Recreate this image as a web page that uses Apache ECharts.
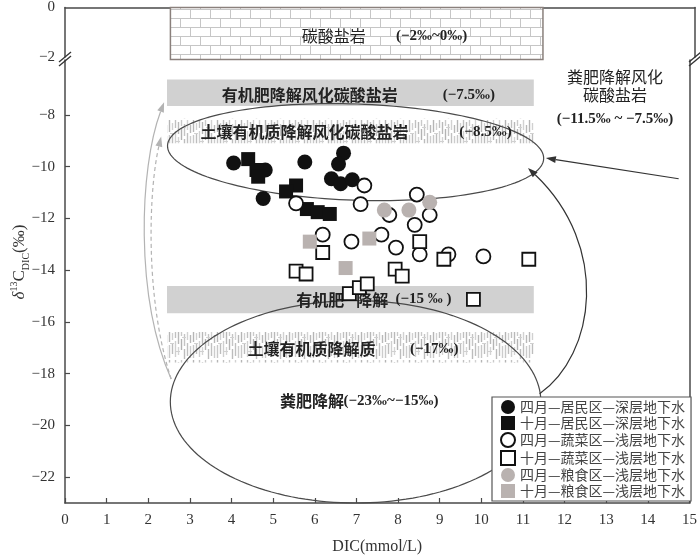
<!DOCTYPE html>
<html><head><meta charset="utf-8">
<script src="https://cdn.jsdelivr.net/npm/echarts@6/dist/echarts.min.js"></script>
<style>html,body{margin:0;padding:0;background:#fff}#c{width:700px;height:560px}</style>
</head><body><div id="c"></div>
<script>
// ---------- data ----------
const seriesNames = ['四月—居民区—深层地下水','十月—居民区—深层地下水','四月—蔬菜区—浅层地下水','十月—蔬菜区—浅层地下水','四月—粮食区—浅层地下水','十月—粮食区—浅层地下水'];
const aprResDeep = [[4.05,-9.86],[4.81,-10.13],[5.76,-9.82],[6.69,-9.48],[6.57,-9.90],[6.40,-10.47],[6.62,-10.66],[6.90,-10.51],[4.76,-11.23]];
const octResDeep = [[4.40,-9.71],[4.60,-10.13],[4.64,-10.39],[5.55,-10.73],[5.31,-10.96],[5.81,-11.64],[6.07,-11.76],[6.36,-11.83]];
const aprVegShallow = [[7.19,-10.73],[5.55,-11.42],[7.10,-11.45],[8.45,-11.08],[6.19,-12.63],[6.88,-12.90],[7.60,-12.63],[7.79,-11.87],[7.95,-13.13],[8.40,-12.25],[8.76,-11.87],[8.52,-13.39],[9.21,-13.39],[10.05,-13.47]];
const octVegShallow = [[6.83,-14.91],[7.07,-14.68],[7.26,-14.53],[5.55,-14.04],[5.79,-14.15],[6.19,-13.32],[8.52,-12.90],[9.10,-13.58],[11.14,-13.58],[7.93,-13.96],[8.10,-14.23],[9.81,-15.13]];
const aprGrainShallow = [[7.67,-11.68],[8.26,-11.68],[8.76,-11.38]];
const octGrainShallow = [[5.88,-12.90],[7.31,-12.78],[6.74,-13.92]];

const xTickValues = [0,1,2,3,4,5,6,7,8,9,10,11,12,13,14,15];
const yTickTop = [0,-2];
const yTickLower = [-8,-10,-12,-14,-16,-18,-20,-22];

// source ranges [x0, x1, yTop, yBottom]
const carbonateRange = [2.51, 11.38, 0, -2.1];
const bandOrgFertWeather = [2.45, 11.26, -6.63, -7.66];
const bandSoilWeather = [2.45, 11.26, -8.15, -9.10];
const bandOrgFert = [2.45, 11.26, -14.61, -15.67];
const bandSoil = [2.45, 11.26, -16.39, -17.57];

// ellipses [cx, cy, rx, ry, rotationDeg]
const ellipseUpper = [6.98, -9.44, 4.52, 1.86, 2];
const ellipseLower = [6.98, -19.09, 4.45, 3.91, 0];

// arrows [sx, sy, c1x, c1y, c2x, c2y, ex, ey]
const arrowStraight = [14.74, -10.47, 14.74, -10.47, 14.74, -10.47, 11.55, -9.67];
const arrowCurve = [11.40, -18.78, 12.74, -17.26, 13.10, -13.09, 11.12, -10.05];
const arrowGray1 = [2.55, -18.21, 1.67, -14.99, 1.79, -10.05, 2.38, -7.51];
const arrowGray2 = [2.55, -18.21, 1.90, -14.99, 2.02, -10.81, 2.31, -8.84];

// text annotations [text, x, y]
const topZhLabels = [['碳酸盐岩', 6.40, -1.15]];
const topValLabels = [['(−2‰~0‰)', 8.73, -1.15]];
const zhLabels = [
  ['有机肥降解风化碳酸盐岩', 5.88, -7.24],
  ['土壤有机质降解风化碳酸盐岩', 5.75, -8.65],
  ['有机肥', 6.13, -15.14],
  ['降解', 7.38, -15.14],
  ['土壤有机质降解质', 5.92, -17.04],
  ['粪肥降解', 5.93, -19.05]
];
const sideZhLabels = [['粪肥降解风化', 13.21, -6.53], ['碳酸盐岩', 13.21, -7.22]];
const valLabels = [
  ['(−7.5‰)', 9.70, -7.24],
  ['(−8.5‰)', 10.10, -8.65],
  ['(−15 ‰ )', 8.61, -15.14],
  ['(−17‰)', 8.87, -17.04],
  ['(−23‰~−15‰)', 7.83, -19.05],
  ['(−11.5‰ ~ −7.5‰)', 13.21, -8.15]
];

// ---------- patterns ----------
const brick = document.createElement('canvas'); brick.width = 40; brick.height = 18;
(function(){ const g = brick.getContext('2d'); g.fillStyle='#fff'; g.fillRect(0,0,40,18);
  g.strokeStyle='#c6c6c6'; g.lineWidth=1; g.beginPath();
  g.moveTo(0,0.5); g.lineTo(40,0.5); g.moveTo(0,9.5); g.lineTo(40,9.5);
  g.moveTo(0.5,0); g.lineTo(0.5,9); g.moveTo(20.5,0); g.lineTo(20.5,9);
  g.moveTo(10.5,9); g.lineTo(10.5,18); g.moveTo(30.5,9); g.lineTo(30.5,18);
  g.stroke(); })();
const hatch = document.createElement('canvas'); hatch.width = 24; hatch.height = 30;
(function(){ const h = hatch.getContext('2d'); h.fillStyle='#fff'; h.fillRect(0,0,24,30);
  const cols=[[1,0,12,'#b5b5b5'],[1,15,28,'#c8c8c8'],[4,3,10,'#d0d0d0'],[4,14,24,'#bdbdbd'],[7,0,8,'#c0c0c0'],[7,11,27,'#cfcfcf'],[10,2,14,'#b8b8b8'],[10,17,25,'#d5d5d5'],[13,0,6,'#cacaca'],[13,9,20,'#b3b3b3'],[16,4,16,'#c4c4c4'],[16,19,29,'#bcbcbc'],[19,0,10,'#d2d2d2'],[19,13,26,'#c0c0c0'],[22,5,13,'#b8b8b8'],[22,16,28,'#cccccc']];
  h.lineWidth=1.4; cols.forEach(c=>{h.strokeStyle=c[3]; h.beginPath(); h.moveTo(c[0]+0.5,c[1]); h.lineTo(c[0]+0.5,c[2]); h.stroke();});
  h.strokeStyle='#d0d0d0'; h.lineWidth=1; h.beginPath(); h.moveTo(2,13.5); h.lineTo(6,13.5); h.moveTo(14,7.5); h.lineTo(18,7.5); h.moveTo(8,21.5); h.lineTo(12,21.5); h.stroke(); })();

// ---------- helpers ----------
const AX = '#4a4a4a';
const serif = 'Liberation Serif';
const cjk = 'Noto Sans CJK SC';
const minus = v => String(v).replace('-', '−');

function rectSeries(range, xi, yi, style, z){
  return {type:'custom', xAxisIndex:xi, yAxisIndex:yi, z:z, silent:true, clip:false, data:[range],
    renderItem:(params, api)=>{
      const a = api.coord([api.value(0), api.value(2)]);
      const b = api.coord([api.value(1), api.value(3)]);
      return {type:'rect', shape:{x:Math.min(a[0],b[0]), y:Math.min(a[1],b[1]), width:Math.abs(b[0]-a[0]), height:Math.abs(b[1]-a[1])}, style:style};
    }};
}
function ellipseSeries(e){
  return {type:'custom', xAxisIndex:1, yAxisIndex:2, z:3, silent:true, data:[e],
    renderItem:(params, api)=>{
      const c = api.coord([api.value(0), api.value(1)]);
      const s = api.size([api.value(2), api.value(3)]);
      const th = api.value(4)*Math.PI/180;
      const pts=[];
      for(let i=0;i<=160;i++){const t=i/160*2*Math.PI; const ex=s[0]*Math.cos(t), ey=s[1]*Math.sin(t);
        pts.push([c[0]+ex*Math.cos(th)-ey*Math.sin(th), c[1]+ex*Math.sin(th)+ey*Math.cos(th)]);}
      return {type:'polygon', shape:{points:pts}, style:{fill:'none', stroke:'#4a4a4a', lineWidth:1.2}};
    }};
}
function arrowSeries(a, color, dash){
  return {type:'custom', xAxisIndex:1, yAxisIndex:2, z:3, silent:true, data:[a],
    renderItem:(params, api)=>{
      const P=[0,2,4,6].map(i=>api.coord([api.value(i), api.value(i+1)]));
      const e=P[3];
      let ref=P[2];
      for(let k=2;k>=0;k--){ if(Math.hypot(e[0]-P[k][0], e[1]-P[k][1])>1){ ref=P[k]; break; } }
      let dx=e[0]-ref[0], dy=e[1]-ref[1]; const L=Math.hypot(dx,dy)||1; dx/=L; dy/=L;
      const hl=10, hw=3.5;
      const bx=e[0]-dx*hl, by=e[1]-dy*hl;
      return {type:'group', children:[
        {type:'bezierCurve', shape:{x1:P[0][0],y1:P[0][1],cpx1:P[1][0],cpy1:P[1][1],cpx2:P[2][0],cpy2:P[2][1],x2:bx,y2:by},
          style:{fill:'none', stroke:color, lineWidth:1.2, lineDash:dash||null}},
        {type:'polygon', shape:{points:[[e[0],e[1]],[bx-dy*hw,by+dx*hw],[bx+dy*hw,by-dx*hw]]}, style:{fill:color}}
      ]};
    }};
}
function textSeries(arr, xi, yi, font){
  return {type:'custom', xAxisIndex:xi, yAxisIndex:yi, z:4, silent:true, clip:false, data:arr.map(a=>[a[1],a[2]]),
    renderItem:(params, api)=>{
      const p=api.coord([api.value(0), api.value(1)]);
      return {type:'text', x:p[0], y:p[1], style:Object.assign({text:arr[params.dataIndex][0], align:'center', verticalAlign:'middle', fill:'#222'}, font)};
    }};
}
const zhFont = {fontFamily:cjk, fontSize:16, fontWeight:'bold'};
const valFont = {fontFamily:serif, fontSize:15, fontWeight:'bold'};
const sideFont = {fontFamily:cjk, fontSize:16, fontWeight:'normal'};

const axisLineStyle = {lineStyle:{color:AX, width:1.5}};
const chart = echarts.init(document.getElementById('c'), null, {renderer:'canvas'});
const option = {
  animation:false,
  backgroundColor:'#fff',
  grid:[{left:65, right:5, top:5, height:52}, {left:65, right:5, top:60, bottom:49}],
  xAxis:[
    {gridIndex:0, type:'value', min:0, max:15, position:'top', axisLine:Object.assign({onZero:false}, axisLineStyle), axisTick:{show:false}, axisLabel:{show:false}, splitLine:{show:false}},
    {gridIndex:1, type:'value', min:0, max:15, interval:1, position:'bottom', axisLine:Object.assign({onZero:false}, axisLineStyle),
      axisTick:{inside:true, length:5, lineStyle:{color:AX, width:1.2}}, splitLine:{show:false},
      axisLabel:{fontFamily:serif, fontSize:15, color:'#333', margin:10},
      name:'DIC(mmol/L)', nameLocation:'middle', nameGap:36, nameTextStyle:{fontFamily:serif, fontSize:16, color:'#333'}}
  ],
  yAxis:[
    {gridIndex:0, type:'value', min:-2, max:0, interval:2, axisLine:Object.assign({onZero:false}, axisLineStyle), axisTick:{show:false}, splitLine:{show:false},
      axisLabel:{fontFamily:serif, fontSize:15, color:'#333', margin:10, formatter:minus}},
    {gridIndex:0, type:'value', position:'right', min:-2, max:0, axisLine:Object.assign({onZero:false}, axisLineStyle), axisTick:{show:false}, axisLabel:{show:false}, splitLine:{show:false}},
    {gridIndex:1, type:'value', min:-23, max:-5.88, axisLine:Object.assign({onZero:false}, axisLineStyle), splitLine:{show:false},
      axisTick:{inside:true, length:5, customValues:yTickLower, lineStyle:{color:AX, width:1.2}},
      axisLabel:{fontFamily:serif, fontSize:15, color:'#333', margin:10, customValues:yTickLower, formatter:minus}},
    {gridIndex:1, type:'value', position:'right', min:-23, max:-5.88, axisLine:Object.assign({onZero:false}, axisLineStyle), axisTick:{show:false}, axisLabel:{show:false}, splitLine:{show:false}}
  ],
  legend:{orient:'vertical', left:492, top:397, itemWidth:14, itemHeight:14, itemGap:2, padding:[3,6,3,8],
    backgroundColor:'#fff', borderColor:'#555', borderWidth:1.2, z:10,
    textStyle:{fontFamily:cjk, fontSize:14, color:'#444'}, data:seriesNames},
  graphic:[
    {type:'line', z:20, shape:{x1:59,y1:62,x2:71,y2:52}, style:{stroke:'#333', lineWidth:1.3}},
    {type:'line', z:20, shape:{x1:59,y1:66,x2:71,y2:56}, style:{stroke:'#333', lineWidth:1.3}},
    {type:'line', z:20, shape:{x1:689,y1:62,x2:701,y2:52}, style:{stroke:'#333', lineWidth:1.3}},
    {type:'line', z:20, shape:{x1:689,y1:66,x2:701,y2:56}, style:{stroke:'#333', lineWidth:1.3}},
    {type:'text', x:20, y:262, rotation:Math.PI/2, z:20,
      style:{text:'{d|δ}{sup|13}{c|C}{sub|DIC}{c|(‰)}', align:'center', verticalAlign:'middle',
        rich:{d:{fontFamily:serif, fontStyle:'italic', fontSize:17, fill:'#333', lineHeight:22},
              c:{fontFamily:serif, fontSize:17, fill:'#333', lineHeight:22},
              sup:{fontFamily:serif, fontSize:10, fill:'#333', verticalAlign:'top', lineHeight:12},
              sub:{fontFamily:serif, fontSize:10, fill:'#333', verticalAlign:'bottom', lineHeight:12}}}}
  ],
  series:[
    rectSeries(carbonateRange, 0, 0, {fill:{image:brick, repeat:'repeat'}, stroke:'#8a807c', lineWidth:1.5}, 1),
    rectSeries(bandOrgFertWeather, 1, 2, {fill:'#d1d1d1'}, 1),
    rectSeries(bandSoilWeather, 1, 2, {fill:{image:hatch, repeat:'repeat'}}, 1),
    rectSeries(bandOrgFert, 1, 2, {fill:'#d1d1d1'}, 1),
    rectSeries(bandSoil, 1, 2, {fill:{image:hatch, repeat:'repeat'}}, 1),
    textSeries(topZhLabels, 0, 0, {fontFamily:cjk, fontSize:16, fontWeight:'normal'}),
    textSeries(topValLabels, 0, 0, {fontFamily:serif, fontSize:15, fontWeight:'bold'}),
    textSeries(zhLabels, 1, 2, zhFont),
    textSeries(sideZhLabels, 1, 2, sideFont),
    textSeries(valLabels, 1, 2, valFont),
    ellipseSeries(ellipseUpper),
    ellipseSeries(ellipseLower),
    arrowSeries(arrowStraight, '#333'),
    arrowSeries(arrowCurve, '#333'),
    arrowSeries(arrowGray1, '#b3b3b3'),
    arrowSeries(arrowGray2, '#b3b3b3', [4,3]),
    {name:seriesNames[0], type:'scatter', xAxisIndex:1, yAxisIndex:2, z:5, symbol:'circle', symbolSize:15, data:aprResDeep, itemStyle:{color:'#111', opacity:1}},
    {name:seriesNames[1], type:'scatter', xAxisIndex:1, yAxisIndex:2, z:5, symbol:'rect', symbolSize:14, data:octResDeep, itemStyle:{color:'#111', opacity:1}},
    {name:seriesNames[2], type:'scatter', xAxisIndex:1, yAxisIndex:2, z:5, symbol:'circle', symbolSize:14, data:aprVegShallow, itemStyle:{color:'#fff', borderColor:'#111', borderWidth:1.8, opacity:1}},
    {name:seriesNames[3], type:'scatter', xAxisIndex:1, yAxisIndex:2, z:5, symbol:'rect', symbolSize:13, data:octVegShallow, itemStyle:{color:'#fff', borderColor:'#111', borderWidth:1.8, opacity:1}},
    {name:seriesNames[4], type:'scatter', xAxisIndex:1, yAxisIndex:2, z:5, symbol:'circle', symbolSize:15, data:aprGrainShallow, itemStyle:{color:'#b9b2b0', opacity:1}},
    {name:seriesNames[5], type:'scatter', xAxisIndex:1, yAxisIndex:2, z:5, symbol:'rect', symbolSize:14, data:octGrainShallow, itemStyle:{color:'#b9b2b0', opacity:1}}
  ]
};
chart.setOption(option);
</script>
</body></html>
